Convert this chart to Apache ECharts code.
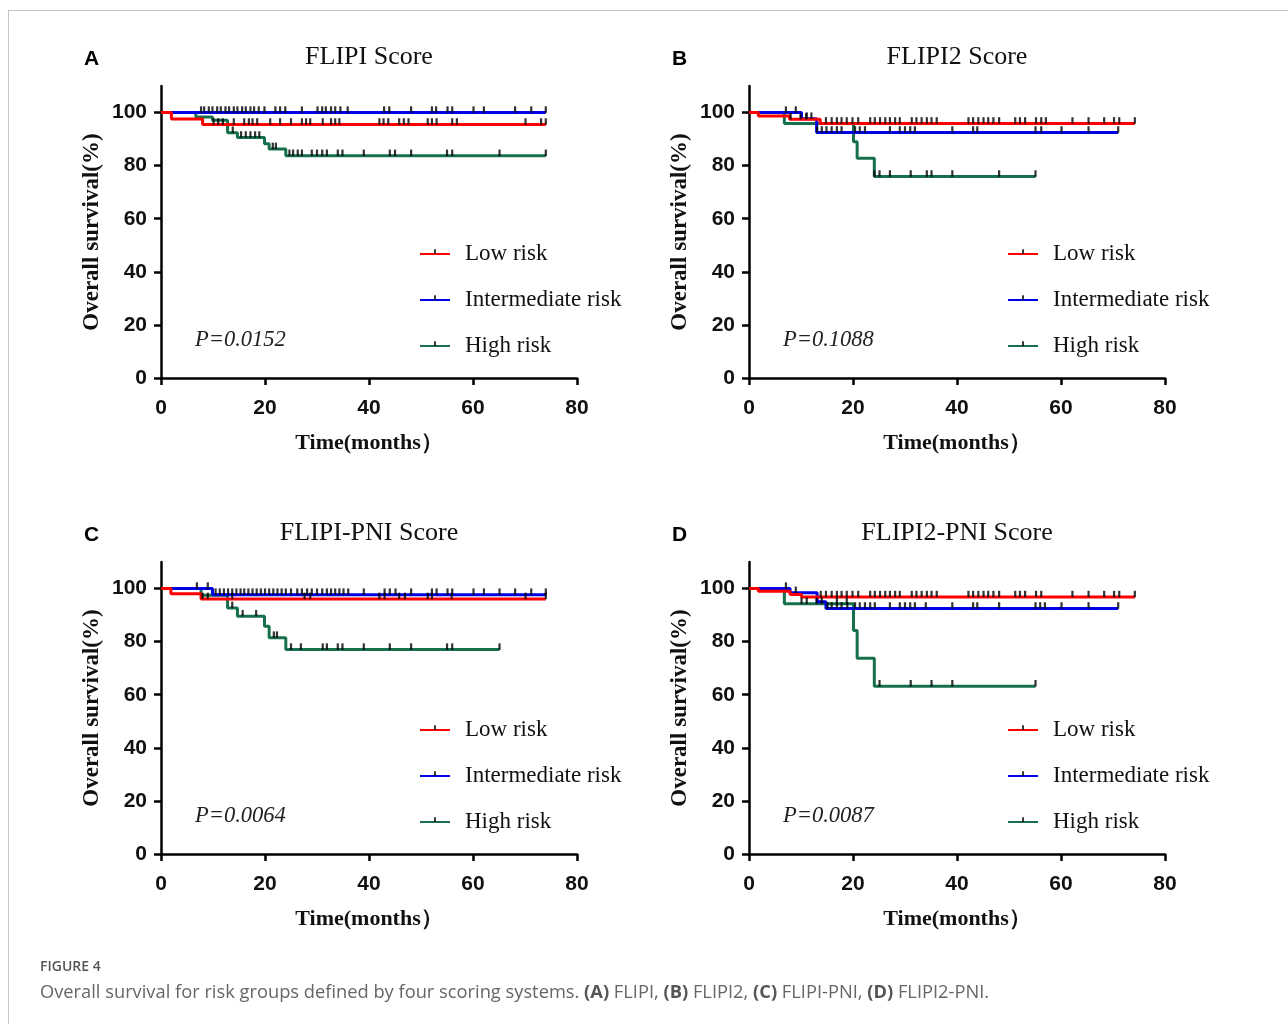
<!DOCTYPE html>
<html><head><meta charset="utf-8">
<script src="https://cdn.jsdelivr.net/npm/echarts@6/dist/echarts.min.js"></script>
<style>
html,body{margin:0;padding:0;background:#fff;}
#frame{position:absolute;left:8px;top:10px;width:1280px;height:1014px;border-top:1px solid #c4c4c4;border-left:1px solid #c4c4c4;box-sizing:border-box;}
#chart{position:absolute;left:0;top:0;width:1288px;height:1024px;}
</style></head>
<body><div id="frame"></div><div id="chart"></div>
<script>
// ---------- data ----------
const panelTitles = ['FLIPI Score', 'FLIPI2 Score', 'FLIPI-PNI Score', 'FLIPI2-PNI Score'];
const panelLetters = ['A', 'B', 'C', 'D'];
const pValues = ['P=0.0152', 'P=0.1088', 'P=0.0064', 'P=0.0087'];
const groupNames = ['Low risk', 'Intermediate risk', 'High risk'];
const xTicks = [0, 20, 40, 60, 80];
const yTicks = [0, 20, 40, 60, 80, 100];

// Kaplan-Meier curves: [time (months), survival (%)]
const A_low  = [[0,100],[2,97.6],[8,95.5],[74,95.5]];
const A_int  = [[0,100],[74,100]];
const A_high = [[0,100],[6.7,98.3],[9.9,97.1],[12.8,92.4],[14.7,90.6],[19.9,88.2],[20.8,86.3],[24,83.7],[74,83.7]];
const B_low  = [[0,100],[1.8,98.7],[7.8,97.5],[13.7,95.9],[74.2,95.9]];
const B_int  = [[0,100],[10.1,97.7],[13,92.5],[71,92.5]];
const B_high = [[0,100],[6.8,95.9],[20.1,89],[20.8,82.8],[24.1,75.9],[55.1,75.9]];
const C_low  = [[0,100],[1.9,98.0],[7.7,96.1],[74,96.1]];
const C_int  = [[0,100],[9.9,97.7],[74,97.7]];
const C_high = [[0,100],[7.7,97.5],[12.8,92.7],[14.7,89.6],[19.9,85.8],[20.8,81.5],[24,77],[65.1,77]];
const D_low  = [[0,100],[1.8,99.0],[7.9,97.8],[10.1,96.8],[74.2,96.8]];
const D_int  = [[0,100],[7.9,98.4],[13.1,95],[14.8,92.5],[71,92.5]];
const D_high = [[0,100],[6.8,94.3],[20.1,84.2],[20.8,73.7],[24.1,63.2],[55.1,63.2]];

// censoring times (months)
const A_low_cens  = [10.1,11.0,11.9,14.0,16.0,16.9,17.6,18.5,21.0,22.9,25.0,27.1,27.9,28.7,31.1,32.7,33.5,34.3,42.0,42.8,43.7,45.8,46.7,47.6,51.3,52.1,53.0,56.0,56.9,70.1,73.1,74.0];
const A_int_cens  = [7.7,8.3,9.2,9.9,10.8,11.5,12.4,13.1,14.0,14.7,15.6,16.3,17.2,17.9,18.8,19.9,22.0,22.9,23.9,27.1,30.1,31.0,31.7,32.7,33.5,34.5,35.9,42.9,43.9,48.1,52.1,52.9,55.1,56.0,60.1,62.1,68.1,71.2,74.0];
const A_high_cens = [13.8,15.4,16.3,17.2,18.1,18.9,21.5,22.1,24.7,25.4,26.3,27.1,29.0,30.0,31.0,31.9,34.0,34.9,39.0,44.0,45.0,48.1,55.0,56.0,65.1,74.0];
const B_low_cens  = [8.0,9.9,11.0,14.8,15.9,16.9,17.8,18.8,19.9,21.0,23.3,24.2,25.2,26.2,27.1,28.1,29.0,31.3,32.2,33.2,34.2,35.1,36.1,42.2,43.1,44.1,45.1,46.0,47.0,48.1,51.2,52.1,53.1,55.2,56.2,57.1,62.2,65.3,68.3,70.2,71.2,74.2];
const B_int_cens  = [7.1,9.0,11.1,12.0,13.1,14.0,14.9,15.9,16.9,17.8,20.4,21.3,22.3,27.1,29.0,30.0,31.0,31.9,39.1,43.1,43.9,55.1,56.2,60.1,65.3,71.0];
const B_high_cens = [24.1,25.1,27.1,31.1,34.2,35.1,39.1,48.1,55.1];
const C_low_cens  = [8.0,9.0,13.7,27.6,28.7,42.0,43.0,45.8,46.9,51.3,52.1,55.9,70.1,74.0];
const C_int_cens  = [6.9,9.0,10.5,11.3,12.1,12.9,13.7,14.5,15.3,16.0,16.8,17.6,18.4,19.2,20.0,20.8,21.6,22.4,23.2,24.0,25.0,26.2,27.1,28.1,29.0,30.0,31.0,31.9,32.7,33.5,34.3,35.1,36.0,39.0,43.0,44.0,45.1,48.1,52.1,53.0,55.1,56.0,60.1,62.1,65.1,68.1,71.2,74.0];
const C_high_cens = [13.7,15.7,18.3,21.7,22.3,25.0,26.9,31.1,31.9,34.0,34.9,39.0,44.0,48.1,55.0,56.0,65.1];
const D_low_cens  = [13.8,14.8,15.9,16.9,17.8,18.8,19.9,21.0,23.3,24.2,25.2,26.2,27.1,28.1,29.0,31.3,32.2,33.2,34.2,35.1,36.1,42.2,43.1,44.1,45.1,46.0,47.0,48.1,51.2,52.1,53.1,55.2,56.2,62.2,65.3,68.3,70.2,71.2,74.2];
const D_int_cens  = [7.1,9.0,15.1,15.9,16.9,17.8,18.9,20.4,21.3,22.3,23.3,24.2,27.1,29.0,30.0,31.0,31.9,34.0,39.1,43.1,43.9,48.1,55.1,56.0,56.9,60.1,65.3,71.0];
const D_high_cens = [10.1,11.1,13.0,14.0,16.9,18.8,25.1,31.1,35.1,39.1,55.1];

// ---------- layout / style ----------
const curves = [[A_low,A_int,A_high],[B_low,B_int,B_high],[C_low,C_int,C_high],[D_low,D_int,D_high]];
const censors = [[A_low_cens,A_int_cens,A_high_cens],[B_low_cens,B_int_cens,B_high_cens],[C_low_cens,C_int_cens,C_high_cens],[D_low_cens,D_int_cens,D_high_cens]];
const colors = ['#ff0000', '#0000e6', '#16704c'];
const grids = [
  {left:161, top:86, width:416, height:292},
  {left:749, top:86, width:416, height:292},
  {left:161, top:562, width:416, height:292},
  {left:749, top:562, width:416, height:292}
];
const serif = '"Liberation Serif","Times New Roman",serif';
const sans = '"Liberation Sans",Arial,sans-serif';
const capFont = '"Open Sans","Noto Sans",sans-serif';
const tickPath = 'path://M4.2,0 L5.8,0 L5.8,5 L4.2,5 Z M0,10 L0.01,10 L0,9.99 Z M10,10 L9.99,10 L10,9.99 Z';

function survAt(curve, t) {
  let v = curve[0][1];
  for (const p of curve) { if (p[0] <= t) v = p[1]; }
  return v;
}

const option = {
  animation: false,
  backgroundColor: 'transparent',
  grid: grids.map(g => Object.assign({containLabel:false}, g)),
  xAxis: grids.map((g,i) => ({
    gridIndex: i, type: 'value', min: 0, max: 80, interval: 20,
    name: 'Time(months）', nameLocation: 'middle', nameGap: 54,
    nameTextStyle: {fontFamily: serif, fontWeight: 'bold', fontSize: 22, color: '#111'},
    axisLine: {show: true, lineStyle: {color: '#000', width: 2.5}},
    axisTick: {show: true, length: 7, lineStyle: {color:'#000', width: 2.5}, customValues: xTicks},
    axisLabel: {fontFamily: sans, fontWeight: 'bold', fontSize: 21, color: '#111', margin: 20, customValues: xTicks},
    splitLine: {show: false}
  })),
  yAxis: grids.map((g,i) => ({
    gridIndex: i, type: 'value', min: 0, max: 110, interval: 20,
    name: 'Overall survival(%)', nameLocation: 'middle', nameGap: 57,
    nameTextStyle: {fontFamily: serif, fontWeight: 'bold', fontSize: 23, color: '#111'},
    axisLine: {show: true, lineStyle: {color: '#000', width: 2.5}},
    axisTick: {show: true, length: 7, lineStyle: {color:'#000', width: 2.5}, customValues: yTicks},
    axisLabel: {fontFamily: sans, fontWeight: 'bold', fontSize: 21, color: '#111', margin: 14, customValues: yTicks},
    splitLine: {show: false}
  })),
  title: [],
  legend: grids.map((g,i) => ({
    data: groupNames,
    orient: 'vertical', padding: 0,
    left: g.left + 258, top: g.top + 156,
    itemWidth: 30, itemHeight: 12, itemGap: 22,
    selectedMode: false,
    textStyle: {fontFamily: serif, fontSize: 23, color: '#111', lineHeight: 24, padding: [0,0,0,10]}
  })),
  series: []
};

grids.forEach((g,i) => {
  option.title.push({text: panelTitles[i], left: g.left + 208, top: g.top - 42, textAlign: 'center', padding: 0,
    textStyle: {fontFamily: serif, fontWeight: 'normal', fontSize: 26, color: '#111'}});
  option.title.push({text: panelLetters[i], left: g.left - 77, top: g.top - 37, padding: 0,
    textStyle: {fontFamily: sans, fontWeight: 'bold', fontSize: 21, color: '#000'}});
  option.title.push({text: pValues[i], left: g.left + 34, top: g.top + 243, padding: 0,
    textStyle: {fontFamily: serif, fontStyle: 'italic', fontWeight: 'normal', fontSize: 22.5, color: '#222'}});
  // curves, drawn high -> intermediate -> low
  [2,1,0].forEach(k => {
    option.series.push({
      name: groupNames[k], type: 'line', xAxisIndex: i, yAxisIndex: i,
      step: 'end', data: curves[i][k],
      symbol: tickPath, showSymbol: false, symbolSize: 10,
      itemStyle: {color: '#000'},
      lineStyle: {color: colors[k], width: 3},
      emphasis: {disabled: true}, silent: true, z: 2 + (2-k)
    });
  });
  [0,1,2].forEach(k => {
    option.series.push({
      type: 'scatter', xAxisIndex: i, yAxisIndex: i,
      data: censors[i][k].map(t => [t, survAt(curves[i][k], t)]),
      symbol: 'rect', symbolSize: [2.2, 6.5], symbolOffset: [0, -3],
      itemStyle: {color: '#000'}, silent: true, z: 6
    });
  });
});

option.title.push({text: 'FIGURE 4', left: 40, top: 960, padding: 0,
  textStyle: {fontFamily: capFont, fontWeight: 600, fontSize: 14, color: '#555'}});
option.title.push({
  text: 'Overall survival for risk groups defined by four scoring systems. {b|(A)} FLIPI, {b|(B)} FLIPI2, {b|(C)} FLIPI-PNI, {b|(D)} FLIPI2-PNI.',
  left: 40, top: 984, padding: 0,
  textStyle: {fontFamily: capFont, fontWeight: 'normal', fontSize: 18.3, color: '#666',
    rich: {b: {fontFamily: capFont, fontWeight: 'bold', fontSize: 18.3, color: '#555'}}}
});

const chart = echarts.init(document.getElementById('chart'), null, {renderer: 'canvas'});
chart.setOption(option);
</script>
</body></html>
